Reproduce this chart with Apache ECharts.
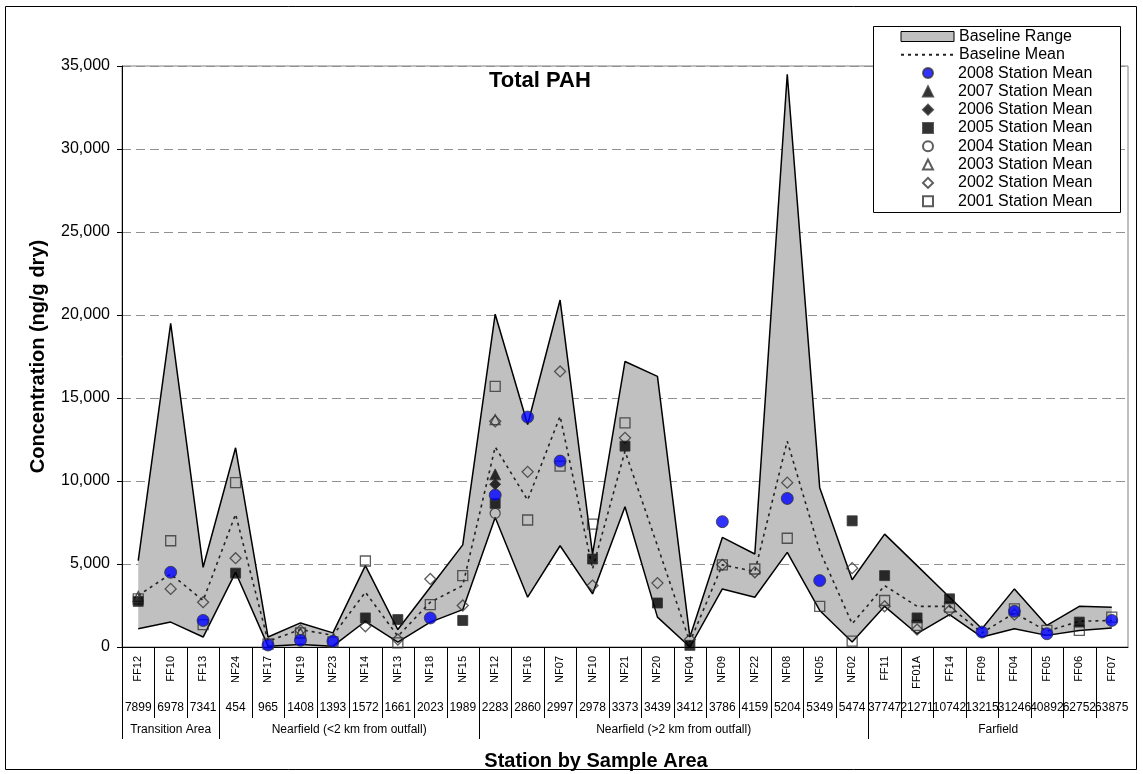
<!DOCTYPE html>
<html>
<head>
<meta charset="utf-8">
<title>Total PAH</title>
<script src="https://cdn.jsdelivr.net/npm/echarts@6/dist/echarts.min.js"></script>
<style>
  html, body { margin: 0; padding: 0; background: #fff; }
  #main { width: 1143px; height: 774px; }
</style>
</head>
<body>
<div id="main"></div>
<script>
const FONT = 'Liberation Sans, Arial, sans-serif';

const stations = ['FF12', 'FF10', 'FF13', 'NF24', 'NF17', 'NF19', 'NF23', 'NF14', 'NF13', 'NF18', 'NF15',
  'NF12', 'NF16', 'NF07', 'NF10', 'NF21', 'NF20', 'NF04', 'NF09', 'NF22', 'NF08', 'NF05', 'NF02',
  'FF11', 'FF01A', 'FF14', 'FF09', 'FF04', 'FF05', 'FF06', 'FF07'];
const stationCodes = ['7899', '6978', '7341', '454', '965', '1408', '1393', '1572', '1661', '2023', '1989',
  '2283', '2860', '2997', '2978', '3373', '3439', '3412', '3786', '4159', '5204', '5349', '5474',
  '37747', '21271', '10742', '13215', '31246', '40892', '62752', '63875'];
const areaNames = ['Transition Area', 'Nearfield (<2 km from outfall)', 'Nearfield (>2 km from outfall)', 'Farfield'];
const areaSizes = [3, 8, 12, 8];

const baseTop = [5200, 19500, 4800, 12000, 600, 1450, 850, 4900, 1050, 3600, 6150,
  20050, 13400, 20900, 5600, 17200, 16300, 600, 6600, 5600, 34500, 9600, 4050,
  6800, 4900, 3000, 1100, 3500, 1300, 2450, 2400];
const baseBottom = [1100, 1500, 600, 4500, 50, 150, 50, 1550, 300, 1500, 2250,
  7800, 3000, 6100, 3200, 8450, 1800, 0, 3500, 3000, 5700, 2200, 300,
  2450, 800, 1950, 600, 1100, 700, 1000, 1150];
const baseMean = [3100, 4400, 2800, 8000, 350, 1050, 700, 3300, 650, 2700, 3700,
  12050, 8850, 13900, 4700, 11800, 6100, 300, 4950, 4550, 12400, 5800, 1400,
  3700, 2450, 2450, 850, 2050, 950, 1550, 1600];

const n = null;
const mean2008 = [n, 4500, 1600, n, 120, 400, 350, n, n, 1750, n,
  9150, 13850, 11200, n, n, n, n, 7550, n, 8950, 4000, n,
  n, n, n, 900, 2150, 800, n, 1600];
const mean2007 = [n, n, n, n, n, n, n, n, n, n, n,
  10400, n, n, n, n, n, n, n, n, n, n, n,
  n, n, n, n, n, n, n, n];
const mean2006 = [n, n, n, n, n, n, n, n, n, n, n,
  9800, n, n, n, n, n, n, n, n, n, n, n,
  n, n, n, n, n, n, n, n];
const mean2005 = [2750, n, n, 4450, n, n, n, 1750, 1650, n, 1600,
  8650, n, n, 5300, 12100, 2650, 100, n, n, n, n, 7600,
  4300, 1750, 2900, n, n, n, 1500, n];
const mean2004 = [n, n, n, n, n, n, n, n, n, n, n,
  8050, n, n, n, n, n, n, n, n, n, n, n,
  n, n, n, n, n, n, n, n];
const mean2003 = [3050, n, n, n, n, 850, n, n, n, n, n,
  13700, n, n, n, n, n, n, n, n, n, n, n,
  n, n, n, n, n, n, n, n];
const mean2002 = [n, 3500, 2700, 5350, n, 1000, n, 1250, 450, 4100, 2500,
  13600, 10550, 16600, 3700, 12600, 3850, 450, 4950, 4500, 9900, n, 4750,
  2450, 1050, 2200, n, 1950, n, n, n];
const mean2001 = [2900, 6400, 1350, 9900, 180, 850, 300, 5180, 250, 2550, 4300,
  15700, 7650, 10900, 7400, 13500, n, n, 4950, 4700, 6550, 2450, 350,
  2800, 1300, 2400, n, 2300, 1000, 1000, 1800];

const yTicks = { min: 0, max: 35000, interval: 5000 };

const yearNames = ['2008 Station Mean', '2007 Station Mean', '2006 Station Mean', '2005 Station Mean',
  '2004 Station Mean', '2003 Station Mean', '2002 Station Mean', '2001 Station Mean'];

function yearSeries(name, data, symbol, filled, size, color) {
  return {
    name: name,
    type: 'scatter',
    z: 4,
    data: data,
    symbol: symbol,
    symbolSize: size,
    itemStyle: {
      color: filled ? color : 'rgba(0,0,0,0)',
      borderColor: '#333',
      borderWidth: filled ? 1 : 1.3
    }
  };
}

const rangeDiff = baseTop.map((v, i) => v - baseBottom[i]);

const myChart = echarts.init(document.getElementById('main'));

const legendText = { fontFamily: FONT, fontSize: 16, color: '#000' };

const option = {
  animation: false,
  backgroundColor: '#fff',
  textStyle: { fontFamily: FONT, color: '#000' },
  title: {
    text: 'Total PAH',
    left: 489,
    top: 70,
    padding: 0,
    textStyle: { fontFamily: FONT, fontSize: 22, fontWeight: 'bold', color: '#000' }
  },
  legend: [
    {
      orient: 'vertical',
      left: 900,
      top: 28.5,
      padding: 0,
      z: 8,
      itemWidth: 53,
      itemHeight: 10,
      itemGap: 2.3,
      selectedMode: false,
      textStyle: legendText,
      data: [
        { name: 'Baseline Range', icon: 'rect', itemStyle: { color: '#c0c0c0', borderColor: '#000', borderWidth: 1 } },
        { name: 'Baseline Mean', itemStyle: { color: 'rgba(0,0,0,0)', borderColor: 'rgba(0,0,0,0)', borderWidth: 0 } }
      ]
    },
    {
      orient: 'vertical',
      left: 922,
      top: 28.5 + 2 * 18.3,
      padding: 0,
      z: 8,
      itemWidth: 10,
      itemHeight: 10,
      itemGap: 2.3,
      selectedMode: false,
      textStyle: Object.assign({ padding: [0, 0, 0, 20] }, legendText),
      data: yearNames
    }
  ],
  grid: {
    left: 122, right: 15, top: 66, bottom: 127,
    show: true,
    borderColor: '#808080',
    borderWidth: 1,
    backgroundColor: '#fff'
  },
  xAxis: [
    {
      type: 'category',
      data: stations,
      boundaryGap: true,
      axisLine: { lineStyle: { color: '#000', width: 1 } },
      axisTick: { show: false },
      axisLabel: { interval: 0, rotate: 90, margin: 9, fontSize: 11, fontFamily: FONT, color: '#000' },
      splitLine: { show: false }
    },
    {
      type: 'category',
      data: stationCodes,
      position: 'bottom',
      boundaryGap: true,
      axisLine: { show: false },
      axisTick: { show: false },
      axisLabel: { interval: 0, margin: 55, fontSize: 12, fontFamily: FONT, color: '#000' },
      splitLine: { show: false }
    }
  ],
  yAxis: {
    type: 'value',
    min: yTicks.min,
    max: yTicks.max,
    interval: yTicks.interval,
    name: 'Concentration (ng/g dry)',
    nameLocation: 'middle',
    nameGap: 74,
    nameTextStyle: { fontFamily: FONT, fontSize: 20, fontWeight: 'bold', color: '#000' },
    axisLine: { show: true, lineStyle: { color: '#000', width: 1 } },
    axisTick: { show: true, length: 5, lineStyle: { color: '#000' } },
    axisLabel: {
      fontSize: 16, fontFamily: FONT, color: '#000', margin: 12,
      formatter: v => v.toLocaleString('en-US')
    },
    splitLine: { show: true, lineStyle: { color: '#909090', type: [9, 5], width: 1 } }
  },
  series: [
    {
      name: 'baseLow',
      type: 'line',
      stack: 'band',
      z: 3,
      data: baseBottom,
      symbol: 'none',
      lineStyle: { color: '#000', width: 1.5 }
    },
    {
      name: 'Baseline Range',
      type: 'line',
      stack: 'band',
      z: 2,
      data: rangeDiff,
      symbol: 'none',
      lineStyle: { color: '#000', width: 1.5 },
      areaStyle: { color: '#c0c0c0', opacity: 1 }
    },
    {
      name: 'Baseline Mean',
      type: 'line',
      z: 3,
      data: baseMean,
      symbol: 'none',
      lineStyle: { color: '#222', width: 1.6, type: [3, 4] }
    },
    yearSeries('2001 Station Mean', mean2001, 'rect', false, 10),
    yearSeries('2002 Station Mean', mean2002, 'diamond', false, 11),
    yearSeries('2003 Station Mean', mean2003, 'triangle', false, 10),
    yearSeries('2004 Station Mean', mean2004, 'circle', false, 10),
    yearSeries('2005 Station Mean', mean2005, 'rect', true, 10, '#000'),
    yearSeries('2006 Station Mean', mean2006, 'diamond', true, 11, '#000'),
    yearSeries('2007 Station Mean', mean2007, 'triangle', true, 11, '#000'),
    yearSeries('2008 Station Mean', mean2008, 'circle', true, 12, '#0000ff')
  ]
};

myChart.setOption(option);

// table under the axis: separators, area names, axis title; legend frame
const xa = i => myChart.convertToPixel({ xAxisIndex: 0 }, i);
const band = xa(1) - xa(0);
const axisY = myChart.convertToPixel({ yAxisIndex: 0 }, 0);
const groupStarts = [];
let acc = 0;
areaSizes.forEach(s => { groupStarts.push(acc); acc += s; });

const graphics = [];
stations.forEach((s, i) => {
  const bx = Math.round(xa(i) - band / 2) + 0.5;
  const isGroup = groupStarts.indexOf(i) >= 0;
  graphics.push({
    type: 'line', silent: true,
    shape: { x1: bx, y1: axisY, x2: bx, y2: axisY + (isGroup ? 92 : 71) },
    style: { stroke: '#000', lineWidth: 1 }
  });
});
areaNames.forEach((name, g) => {
  const first = groupStarts[g];
  const last = first + areaSizes[g] - 1;
  const cx = (xa(first) + xa(last)) / 2;
  graphics.push({
    type: 'text', silent: true, x: cx, y: axisY + 83,
    style: {
      text: name, font: '12px ' + FONT, fill: '#000',
      align: 'center', verticalAlign: 'middle', textAlign: 'center', textVerticalAlign: 'middle'
    }
  });
});
graphics.push({
  type: 'text', silent: true, x: 596, y: axisY + 114,
  style: {
    text: 'Station by Sample Area', font: 'bold 20px ' + FONT, fill: '#000',
    align: 'center', verticalAlign: 'middle', textAlign: 'center', textVerticalAlign: 'middle'
  }
});
graphics.push({
  type: 'rect', silent: true, z: 7,
  shape: { x: 873.5, y: 26.5, width: 247, height: 186 },
  style: { fill: '#fff', stroke: '#000', lineWidth: 1 }
});
graphics.push({
  type: 'rect', silent: true,
  shape: { x: 5.5, y: 6.5, width: 1131, height: 763 },
  style: { fill: 'none', stroke: '#000', lineWidth: 1 }
});

myChart.setOption({ graphic: graphics });
</script>
</body>
</html>
